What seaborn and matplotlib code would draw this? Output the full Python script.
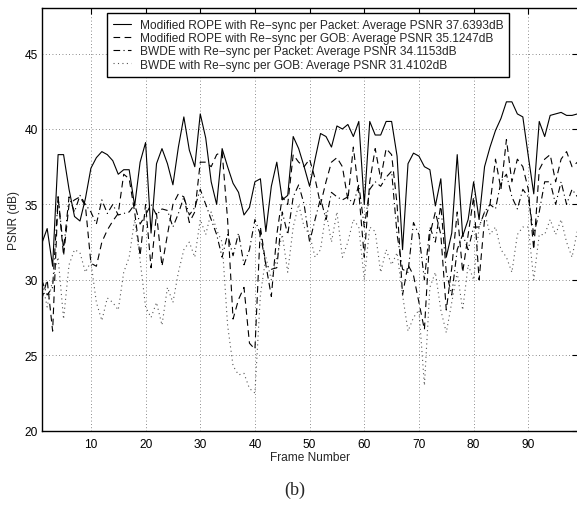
import numpy as np
import pandas as pd
import matplotlib
matplotlib.use("Agg")
import matplotlib.pyplot as plt
import seaborn as sns

frames = list(range(1, 100))

rope_packet = [32.4, 33.4, 30.9, 38.3, 38.3, 36.0, 34.2, 33.9, 35.4, 37.4,
               38.1, 38.5, 38.3, 37.9, 37.0, 37.3, 37.3, 34.9, 37.8, 39.1,
               33.1, 37.7, 38.7, 37.7, 36.3, 38.8, 40.8, 38.6, 37.5, 41.0,
               39.4, 36.5, 35.0, 38.7, 37.5, 36.4, 35.8, 34.3, 34.8, 36.5,
               36.7, 33.2, 36.2, 37.8, 35.3, 35.6, 39.5, 38.7, 37.5, 36.2,
               38.0, 39.7, 39.5, 38.8, 40.2, 40.0, 40.3, 39.5, 40.5, 35.0,
               40.5, 39.6, 39.6, 40.5, 40.5, 38.2, 32.0, 37.7, 38.4, 38.2,
               37.5, 37.3, 34.9, 36.7, 31.5, 33.1, 38.3, 32.9, 34.0, 36.5,
               34.0, 37.5, 38.8, 39.9, 40.7, 41.8, 41.8, 41.0, 40.8, 38.2,
               35.7, 40.5, 39.5, 40.9, 41.0, 41.1, 40.9, 40.9, 41.0]

rope_gob = [28.7, 30.0, 26.6, 35.5, 31.6, 35.0, 35.3, 35.5, 34.9, 31.1,
            30.9, 32.5, 33.3, 33.9, 34.4, 37.0, 36.7, 34.5, 31.6, 35.0,
            30.8, 34.4, 30.9, 33.0, 35.0, 35.7, 35.5, 33.8, 34.5, 37.8,
            37.8, 37.5, 38.3, 38.5, 34.0, 27.4, 28.7, 29.5, 25.8, 25.4,
            33.5, 31.0, 28.9, 33.0, 35.5, 35.0, 38.3, 37.8, 37.5, 38.0,
            36.7, 35.0, 36.5, 37.8, 38.1, 37.5, 35.3, 38.8, 35.8, 31.5,
            36.5, 38.7, 36.7, 38.7, 38.3, 35.0, 29.0, 31.0, 30.3, 28.5,
            26.7, 33.0, 34.5, 33.0, 28.0, 30.8, 34.5, 30.5, 33.0, 35.5,
            30.0, 34.0, 35.0, 38.0, 36.0, 39.3, 36.5, 38.0, 37.5, 36.0,
            32.0, 37.3, 38.0, 38.3, 36.5, 38.0, 38.5, 37.5, 37.8]

bwde_packet = [30.0, 29.0, 29.5, 35.5, 32.0, 35.5, 34.5, 35.6, 35.0, 34.5,
               33.7, 35.3, 34.4, 35.0, 34.3, 34.4, 34.5, 35.0, 33.7, 34.3,
               35.0, 34.3, 34.7, 34.6, 33.5, 34.4, 35.5, 34.3, 34.8, 36.0,
               35.0, 34.0, 33.0, 31.5, 33.0, 31.6, 33.1, 31.0, 32.0, 34.0,
               33.0, 31.0, 30.7, 30.8, 34.5, 33.0, 35.5, 36.3, 35.0, 32.5,
               34.0, 35.4, 34.0, 35.8, 35.5, 35.3, 35.5, 35.0, 36.3, 33.5,
               36.0, 36.5, 36.2, 36.8, 37.2, 33.0, 30.7, 30.5, 33.8, 33.0,
               30.0, 33.5, 32.5, 35.0, 30.5, 29.0, 32.0, 33.0, 32.0, 33.5,
               33.5, 34.5, 35.0, 34.7, 36.5, 37.0, 35.5, 34.7, 36.0, 35.5,
               33.0, 34.5, 36.5, 36.5, 35.0, 36.5, 35.0, 36.0, 35.5]

bwde_gob = [30.0, 28.2, 30.0, 31.5, 27.4, 31.0, 32.0, 31.8, 30.5, 31.2,
            28.5, 27.3, 28.8, 28.5, 28.0, 30.5, 31.5, 34.0, 31.3, 28.2,
            27.5, 28.5, 27.0, 29.5, 28.5, 30.5, 32.0, 32.5, 31.5, 34.0,
            33.0, 34.5, 33.3, 32.5, 27.0, 24.3, 23.7, 23.8, 22.8, 22.5,
            29.0, 31.5, 30.0, 31.5, 33.0, 30.5, 33.5, 35.0, 33.5, 33.0,
            31.5, 32.0, 34.5, 32.5, 34.5, 31.5, 32.5, 34.0, 33.5, 30.0,
            33.5, 33.2, 30.5, 32.0, 31.0, 31.8, 29.0, 26.6, 27.5, 28.0,
            23.0, 29.5, 30.5, 28.0, 26.5, 28.5, 30.5, 28.0, 31.0, 30.0,
            33.5, 34.5, 33.0, 33.5, 32.0, 31.5, 30.5, 33.0, 33.5, 33.5,
            30.0, 33.0, 33.0, 34.0, 33.0, 34.0, 32.5, 31.5, 33.3]

labels = ["Modified ROPE with Re\u2212sync per Packet: Average PSNR 37.6393dB",
          "Modified ROPE with Re\u2212sync per GOB: Average PSNR 35.1247dB",
          "BWDE with Re\u2212sync per Packet: Average PSNR 34.1153dB",
          "BWDE with Re\u2212sync per GOB: Average PSNR 31.4102dB"]

x_ticks = [10, 20, 30, 40, 50, 60, 70, 80, 90]
y_ticks = [20, 25, 30, 35, 40, 45]

sns.set_theme(style="white")
plt.rcParams['font.family'] = ['Liberation Sans', 'DejaVu Sans']
plt.rcParams['axes.unicode_minus'] = True

FS = 8.6

fig = plt.figure(figsize=(5.77, 5.06), dpi=100)
ax = fig.add_axes([41.7 / 577, 1 - 431.7 / 506, (577.5 - 41.7) / 577, (431.7 - 9.3) / 506])

series = [rope_packet, rope_gob, bwde_packet, bwde_gob]
styles = ['-', (0, (6, 4)), (0, (6, 3, 1, 3)), (0, (1, 3))]
colors = ['black', 'black', 'black', '#555555']

for vals, lab, ls, col in zip(series, labels, styles, colors):
    df = pd.DataFrame({"Frame": frames, "PSNR": vals})
    sns.lineplot(data=df, x="Frame", y="PSNR", ax=ax, color=col, linewidth=0.8,
                 linestyle=ls, label=lab)

ax.set_xlim(1, 99)
ax.set_ylim(20, 48)
ax.set_xticks(x_ticks)
ax.set_yticks(y_ticks)
ax.tick_params(axis='both', which='both', direction='in', length=4, width=0.8,
               top=True, right=True, labelsize=FS, colors='black', pad=3)
ax.tick_params(axis='x', pad=5)
ax.grid(True, linestyle=(0, (1, 3)), color='#666666', linewidth=0.6)
for sp in ax.spines.values():
    sp.set_color('black')
    sp.set_linewidth(1.0)

ax.set_xlabel("Frame Number", fontsize=FS, labelpad=1)
ax.set_ylabel("PSNR (dB)", fontsize=FS, labelpad=3)

leg = ax.legend(loc='upper left', bbox_to_anchor=(107 / 577, 1 - 14 / 506),
                bbox_transform=fig.transFigure, fontsize=FS, frameon=True,
                fancybox=False, framealpha=1, edgecolor='black',
                borderpad=0.5, labelspacing=0.1, handlelength=1.55,
                handletextpad=0.7, borderaxespad=0)
leg.get_frame().set_linewidth(1.0)

fig.text(295 / 577, 1 - 490 / 506, "(b)", fontsize=13, ha='center', va='center',
         family=['Liberation Serif', 'DejaVu Serif'])

fig.savefig("out.png", dpi=100)
